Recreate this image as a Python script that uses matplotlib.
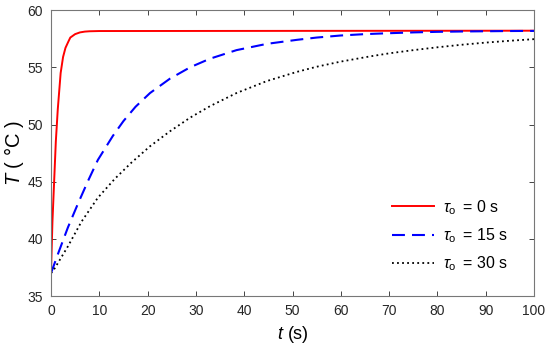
import matplotlib
matplotlib.use("Agg")
import matplotlib.pyplot as plt

plt.rcParams['font.family'] = ['Liberation Sans', 'DejaVu Sans']
plt.rcParams['mathtext.fontset'] = 'custom'
plt.rcParams['mathtext.rm'] = 'Liberation Sans'
plt.rcParams['mathtext.it'] = 'Liberation Sans:italic'

# tau_o = 0 s
t_red = [0, 0.3, 0.7, 1.0, 1.4, 2.0, 2.5, 3.0, 3.6, 4.0, 5.0, 6.0, 7.0, 8.0, 10.0, 100.0]
T_red = [37.0, 41.5, 45.5, 48.5, 51.3, 54.5, 55.9, 56.7, 57.25, 57.6, 57.9, 58.05, 58.12, 58.15, 58.17, 58.2]

# tau_o = 15 s
t_blue = [0, 1.5, 3.5, 5.6, 7.7, 9.7, 12.8, 15.0, 17.5, 20.5, 24.6, 28.8, 32.9, 38.4, 44.7, 50.9,
          55, 60, 65, 70, 75, 80, 85, 90, 95, 100]
T_blue = [37.0, 38.75, 41.0, 43.1, 45.1, 46.9, 49.0, 50.3, 51.55, 52.75, 54.0, 55.0, 55.75, 56.5, 57.05, 57.4,
          57.6, 57.78, 57.9, 57.98, 58.05, 58.1, 58.13, 58.15, 58.17, 58.18]

# tau_o = 30 s
t_blk = [0, 0.8, 3.5, 6.3, 9.7, 13.2, 16.6, 20.5, 24.6, 28.8, 32.9, 38.4, 44.7, 50.9,
         55, 60, 66, 70, 75, 80, 85, 90, 95, 100]
T_blk = [37.0, 37.45, 39.35, 41.5, 43.6, 45.25, 46.65, 48.1, 49.4, 50.6, 51.6, 52.75, 53.8, 54.6,
         55.05, 55.5, 55.95, 56.22, 56.5, 56.75, 56.97, 57.16, 57.32, 57.46]

labels = [r'$\tau_{\mathrm{o}}\,$ = 0 s', r'$\tau_{\mathrm{o}}\,$ = 15 s', r'$\tau_{\mathrm{o}}\,$ = 30 s']
xticks = [0, 10, 20, 30, 40, 50, 60, 70, 80, 90, 100]
yticks = [35, 40, 45, 50, 55, 60]

fig = plt.figure(figsize=(5.5, 3.48), dpi=100)
ax = fig.add_axes([0.0927, 0.149, 0.8783, 0.822])

ax.plot(t_red, T_red, color='#ff0000', lw=1.4, label=labels[0])
ax.plot(t_blue, T_blue, color='#0000ff', lw=1.5, dashes=(6.2, 3.4), label=labels[1])
ax.plot(t_blk, T_blk, color='black', lw=1.3, dashes=(1, 1.8), label=labels[2])

ax.set_xlim(0, 100)
ax.set_ylim(35, 60)
ax.set_xticks(xticks)
ax.set_yticks(yticks)
ax.tick_params(direction='in', top=True, right=True, labelsize=10, colors='#262626',
               length=3.5, width=0.6, pad=6)
for s in ax.spines.values():
    s.set_color('#777777')
    s.set_linewidth(0.8)

ax.set_xlabel(r'$\it{t}$ (s)', fontsize=13, labelpad=4)
ax.set_ylabel(r'$\it{T}$ ( °C )', fontsize=14.5, labelpad=0.5)

leg = ax.legend(loc='lower right', frameon=False, fontsize=11.5, handlelength=2.6,
                handletextpad=0.55, borderpad=0, borderaxespad=0,
                bbox_to_anchor=(0.945, 0.08), labelspacing=0.6)

fig.savefig('out.png', dpi=100)
